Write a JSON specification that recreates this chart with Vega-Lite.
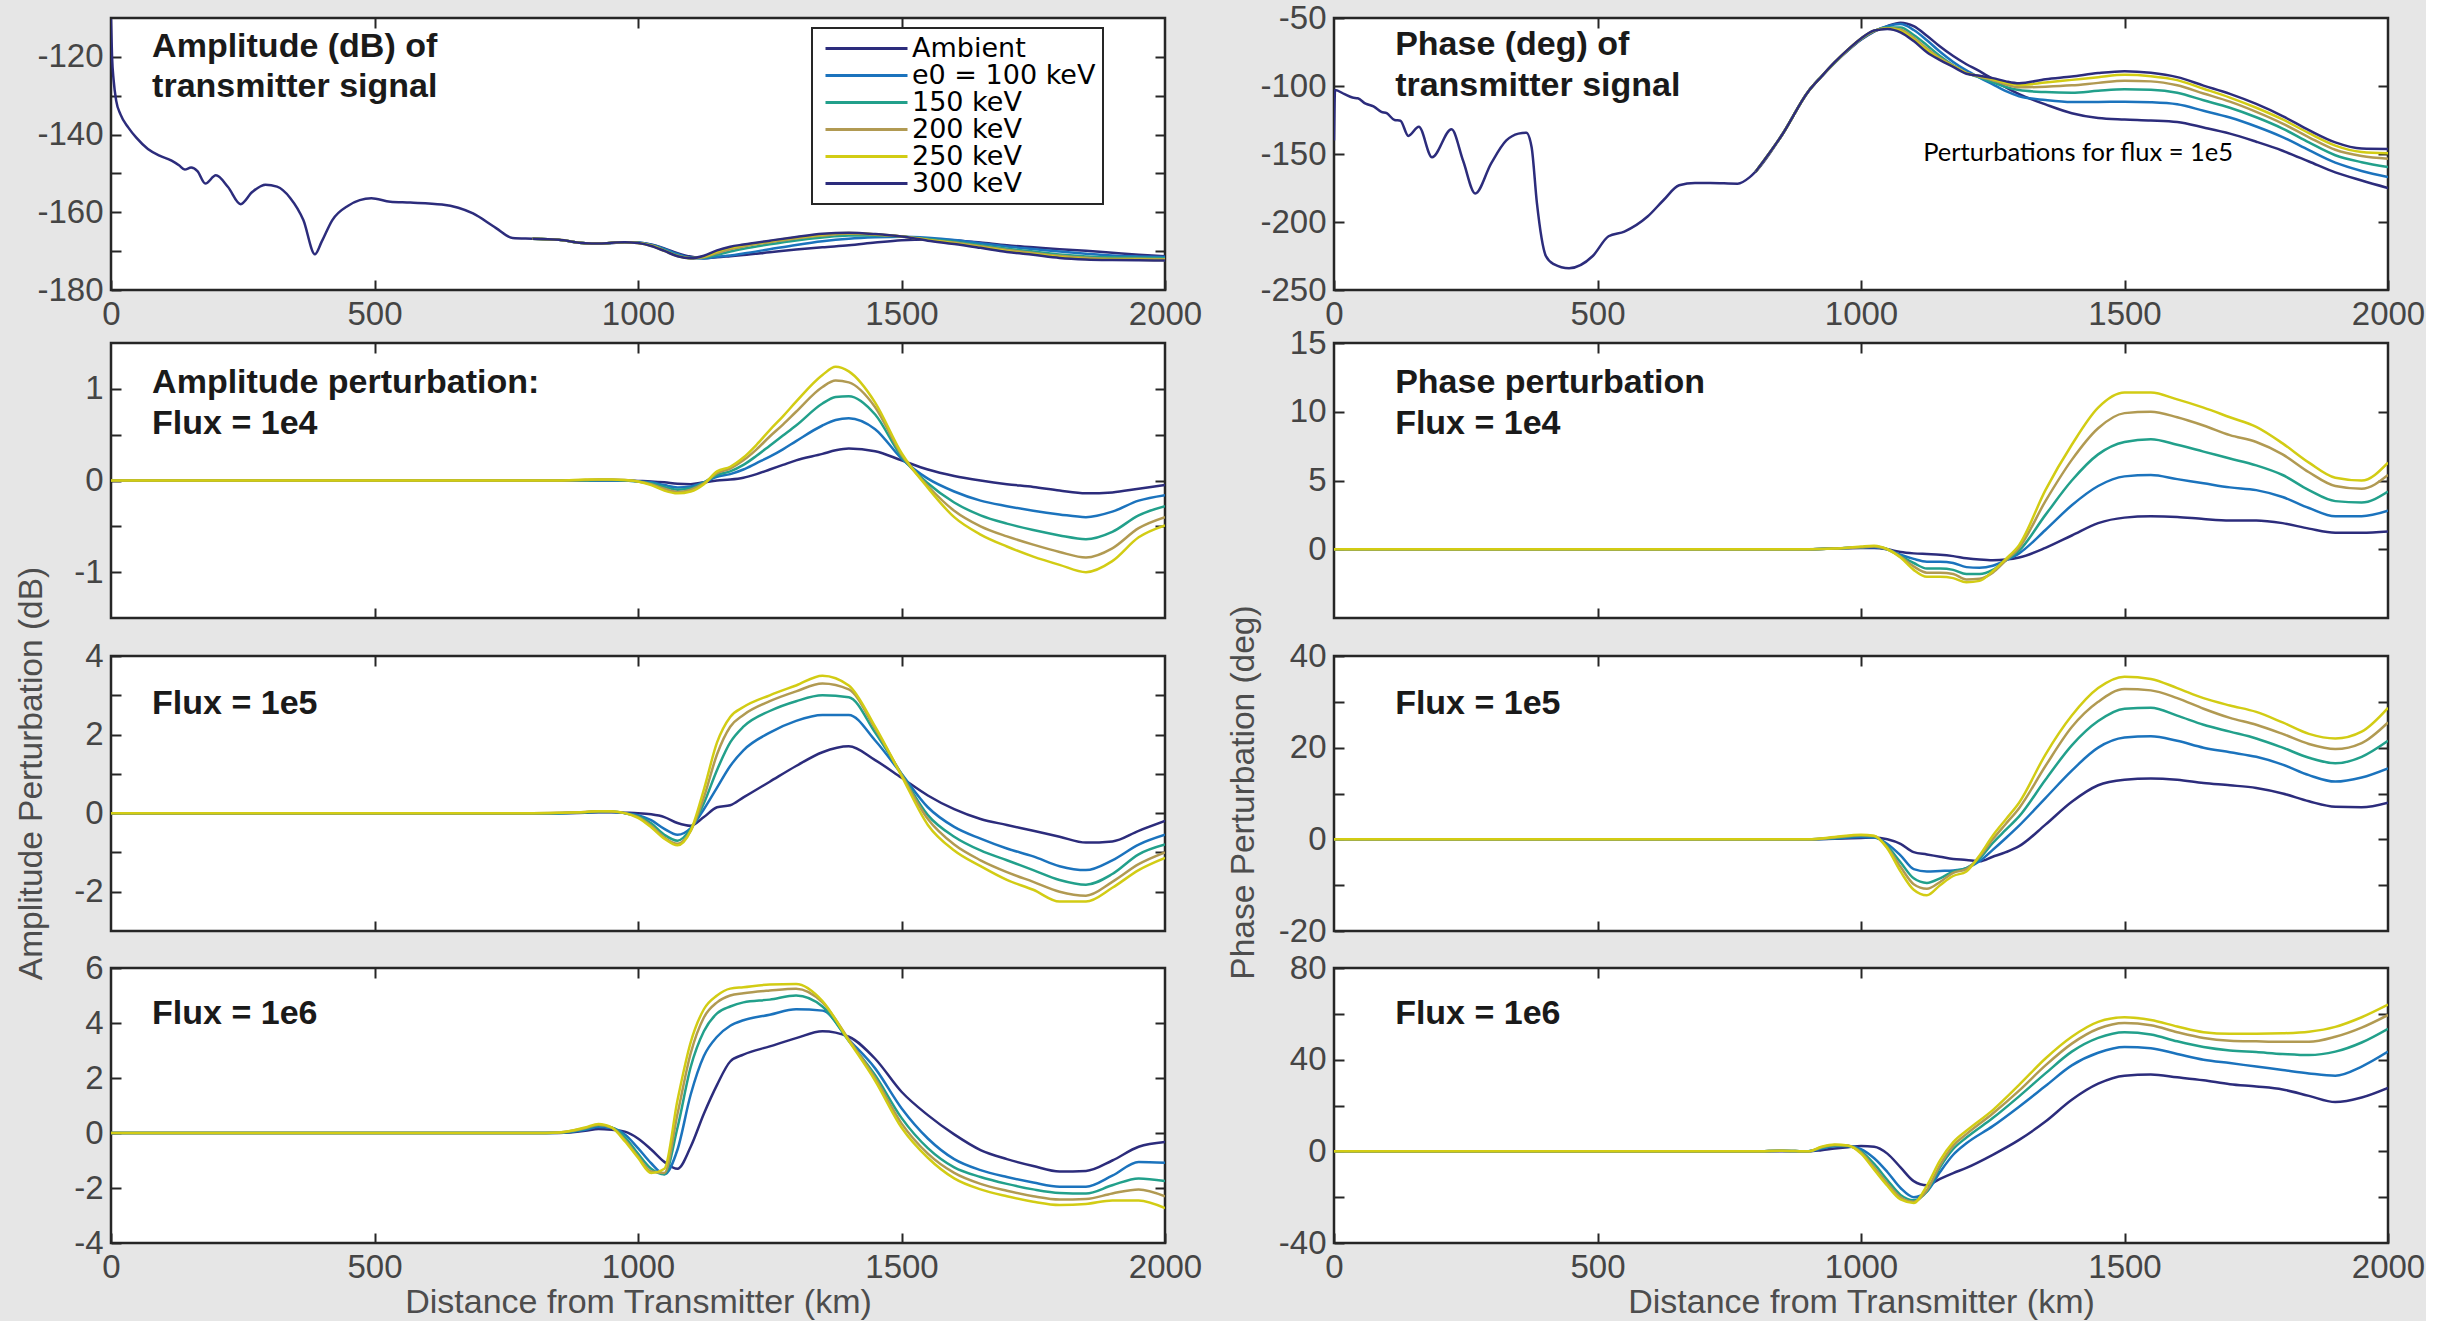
{
"$schema":"https://vega.github.io/schema/vega-lite/v6.json",
"background":"#e6e6e6",
"padding":{"left":12,"top":0,"right":0,"bottom":0},
"config":{
 "view":{"stroke":"#262626","strokeWidth":2.5,"fill":"#ffffff"},
 "axis":{"domain":false,"grid":false,"tickSize":-10,"tickWidth":2,"tickColor":"#262626","labelFont":"Liberation Sans","labelFontSize":33,"labelColor":"#454545","labelPadding":18,"labelFlush":false,"labelOverlap":false,"titleFont":"Liberation Sans","titleFontSize":33.5,"titleColor":"#4d4d4d","titleFontWeight":"normal"},
 "axisX":{"labelExpr":"'' + datum.value","titleFontSize":34},
 "legend":{"strokeWidth":2},
 "text":{"font":"Liberation Sans"}
},
"datasets":{
"ampTop":[
{"x":0,"Ambient":-110.3},{"x":2,"Ambient":-120},{"x":5,"Ambient":-126},{"x":10,"Ambient":-131.4},{"x":18,"Ambient":-134.8},{"x":33,"Ambient":-138.2},{"x":48,"Ambient":-140.8},{"x":70,"Ambient":-143.7},{"x":92,"Ambient":-145.4},{"x":115,"Ambient":-146.7},{"x":129,"Ambient":-147.9},{"x":140,"Ambient":-149},{"x":152,"Ambient":-148.5},{"x":164,"Ambient":-149.4},{"x":179,"Ambient":-152.6},{"x":199,"Ambient":-150.5},{"x":222,"Ambient":-153.5},{"x":246,"Ambient":-157.9},{"x":268,"Ambient":-154.8},{"x":293,"Ambient":-152.9},{"x":315,"Ambient":-153.4},{"x":340,"Ambient":-156.3},{"x":365,"Ambient":-162},{"x":387,"Ambient":-170.8},{"x":400,"Ambient":-167.5},{"x":420,"Ambient":-162},{"x":450,"Ambient":-158.3},{"x":494,"Ambient":-156.4},{"x":530,"Ambient":-157.3},{"x":568,"Ambient":-157.5},{"x":628,"Ambient":-158},{"x":687,"Ambient":-160.3},{"x":730,"Ambient":-164},{"x":762,"Ambient":-166.6},
{"x":800,"Ambient":-166.8,"k100":-166.8,"k150":-166.8,"k200":-166.8,"k250":-166.8,"k300":-166.8},
{"x":850,"Ambient":-167.1,"k100":-167.1,"k150":-167.1,"k200":-167.1,"k250":-167.09,"k300":-167.09},
{"x":900,"Ambient":-168.0,"k100":-167.99,"k150":-167.98,"k200":-167.98,"k250":-167.97,"k300":-167.97},
{"x":925,"Ambient":-168.1,"k100":-168.08,"k150":-168.07,"k200":-168.06,"k250":-168.05,"k300":-168.05},
{"x":950,"Ambient":-167.9,"k100":-167.88,"k150":-167.87,"k200":-167.86,"k250":-167.86,"k300":-167.85},
{"x":975,"Ambient":-167.7,"k100":-167.69,"k150":-167.7,"k200":-167.7,"k250":-167.7,"k300":-167.7},
{"x":1000,"Ambient":-167.8,"k100":-167.8,"k150":-167.85,"k200":-167.88,"k250":-167.9,"k300":-167.92},
{"x":1025,"Ambient":-168.3,"k100":-168.33,"k150":-168.48,"k200":-168.56,"k250":-168.62,"k300":-168.66},
{"x":1050,"Ambient":-169.3,"k100":-169.4,"k150":-169.7,"k200":-169.85,"k250":-169.92,"k300":-169.95},
{"x":1075,"Ambient":-170.5,"k100":-170.75,"k150":-171.05,"k200":-171.2,"k250":-171.28,"k300":-171.32},
{"x":1100,"Ambient":-171.4,"k100":-171.72,"k150":-171.78,"k200":-171.8,"k250":-171.85,"k300":-171.85},
{"x":1125,"Ambient":-171.8,"k100":-171.9,"k150":-171.7,"k200":-171.55,"k250":-171.4,"k300":-171.2},
{"x":1150,"Ambient":-171.6,"k100":-171.45,"k150":-170.95,"k200":-170.5,"k250":-170.1,"k300":-169.8},
{"x":1175,"Ambient":-171.3,"k100":-171.1,"k150":-170.1,"k200":-169.5,"k250":-169.1,"k300":-168.85},
{"x":1200,"Ambient":-171.0,"k100":-170.6,"k150":-169.4,"k200":-168.8,"k250":-168.5,"k300":-168.3},
{"x":1250,"Ambient":-170.3,"k100":-169.5,"k150":-168.25,"k200":-167.7,"k250":-167.45,"k300":-167.3},
{"x":1300,"Ambient":-169.6,"k100":-168.4,"k150":-167.25,"k200":-166.75,"k250":-166.5,"k300":-166.35},
{"x":1350,"Ambient":-169.0,"k100":-167.45,"k150":-166.5,"k200":-166.0,"k250":-165.7,"k300":-165.5},
{"x":1400,"Ambient":-168.5,"k100":-166.8,"k150":-166.0,"k200":-165.55,"k250":-165.35,"k300":-165.25},
{"x":1450,"Ambient":-167.8,"k100":-166.45,"k150":-165.95,"k200":-165.75,"k250":-165.65,"k300":-165.6},
{"x":1500,"Ambient":-167.2,"k100":-166.3,"k150":-166.2,"k200":-166.2,"k250":-166.22,"k300":-166.25},
{"x":1550,"Ambient":-167.0,"k100":-166.55,"k150":-166.85,"k200":-167.05,"k250":-167.15,"k300":-167.3},
{"x":1600,"Ambient":-167.2,"k100":-167.1,"k150":-167.55,"k200":-167.8,"k250":-168.0,"k300":-168.15},
{"x":1650,"Ambient":-167.8,"k100":-167.95,"k150":-168.45,"k200":-168.75,"k250":-169.0,"k300":-169.15},
{"x":1700,"Ambient":-168.5,"k100":-168.8,"k150":-169.4,"k200":-169.7,"k250":-170.0,"k300":-170.2},
{"x":1750,"Ambient":-169.0,"k100":-169.45,"k150":-170.1,"k200":-170.45,"k250":-170.75,"k300":-170.95},
{"x":1800,"Ambient":-169.5,"k100":-170.1,"k150":-170.85,"k200":-171.2,"k250":-171.5,"k300":-171.75},
{"x":1850,"Ambient":-169.9,"k100":-170.65,"k150":-171.35,"k200":-171.72,"k250":-172.0,"k300":-172.15},
{"x":1900,"Ambient":-170.4,"k100":-171.12,"k150":-171.6,"k200":-171.95,"k250":-172.15,"k300":-172.3},
{"x":1950,"Ambient":-170.9,"k100":-171.35,"k150":-171.7,"k200":-171.95,"k250":-172.2,"k300":-172.35},
{"x":2000,"Ambient":-171.3,"k100":-171.5,"k150":-171.85,"k200":-172.1,"k250":-172.3,"k300":-172.44}
],
"phaseTop":[
{"x":0,"Ambient":-140},{"x":2,"Ambient":-103},{"x":20,"Ambient":-106},{"x":35,"Ambient":-108.5},{"x":45,"Ambient":-109},{"x":60,"Ambient":-113},{"x":75,"Ambient":-115},{"x":90,"Ambient":-119},{"x":100,"Ambient":-120},{"x":115,"Ambient":-125},{"x":126,"Ambient":-125.5},{"x":141,"Ambient":-136.7},{"x":161,"Ambient":-130},{"x":186,"Ambient":-152.4},{"x":223,"Ambient":-131.8},{"x":245,"Ambient":-155},{"x":268,"Ambient":-179},{"x":298,"Ambient":-157},{"x":327,"Ambient":-140},{"x":350,"Ambient":-135},{"x":365,"Ambient":-134.3},{"x":375,"Ambient":-145},{"x":385,"Ambient":-186},{"x":402,"Ambient":-225},{"x":417,"Ambient":-231},{"x":446,"Ambient":-234},{"x":491,"Ambient":-225},{"x":521,"Ambient":-210.5},{"x":551,"Ambient":-207},{"x":595,"Ambient":-196},{"x":625,"Ambient":-184},{"x":655,"Ambient":-173},{"x":685,"Ambient":-171.3},{"x":714,"Ambient":-171.3},{"x":766,"Ambient":-171.8},{"x":789,"Ambient":-167},
{"x":800,"Ambient":-163,"k100":-163,"k150":-163,"k200":-163,"k250":-163,"k300":-163},
{"x":850,"Ambient":-136,"k100":-136,"k150":-136,"k200":-136,"k250":-136,"k300":-136},
{"x":900,"Ambient":-104,"k100":-104,"k150":-104,"k200":-104,"k250":-104,"k300":-104},
{"x":925,"Ambient":-93,"k100":-93,"k150":-93,"k200":-93,"k250":-93,"k300":-93},
{"x":950,"Ambient":-83,"k100":-82.9,"k150":-82.8,"k200":-82.7,"k250":-82.6,"k300":-82.5},
{"x":975,"Ambient":-74,"k100":-73.8,"k150":-73.65,"k200":-73.45,"k250":-73.35,"k300":-73.25},
{"x":1000,"Ambient":-66,"k100":-65.7,"k150":-65.5,"k200":-65.2,"k250":-65.1,"k300":-65},
{"x":1025,"Ambient":-60,"k100":-59.6,"k150":-59.6,"k200":-59.4,"k250":-59.3,"k300":-59.2},
{"x":1050,"Ambient":-56,"k100":-56,"k150":-57,"k200":-57.5,"k250":-57.8,"k300":-58},
{"x":1075,"Ambient":-53.5,"k100":-54.5,"k150":-57,"k200":-58.5,"k250":-59.5,"k300":-60.5},
{"x":1100,"Ambient":-56,"k100":-58.8,"k150":-62.5,"k200":-64.5,"k250":-65.8,"k300":-67},
{"x":1125,"Ambient":-63,"k100":-66.3,"k150":-70,"k200":-72.5,"k250":-73.8,"k300":-75.2},
{"x":1150,"Ambient":-71,"k100":-74.8,"k150":-77.9,"k200":-79.5,"k250":-80.3,"k300":-81},
{"x":1175,"Ambient":-78,"k100":-82.3,"k150":-84.8,"k200":-85,"k250":-85.3,"k300":-86},
{"x":1200,"Ambient":-84,"k100":-88.5,"k150":-90.3,"k200":-90.3,"k250":-90.5,"k300":-91},
{"x":1225,"Ambient":-89,"k100":-93.8,"k150":-93.8,"k200":-93.2,"k250":-92.8,"k300":-92.5},
{"x":1250,"Ambient":-95,"k100":-98.8,"k150":-97.3,"k200":-95.8,"k250":-95,"k300":-94.2},
{"x":1275,"Ambient":-101,"k100":-103.8,"k150":-100.7,"k200":-98.9,"k250":-97.6,"k300":-96.6},
{"x":1300,"Ambient":-106,"k100":-107.5,"k150":-103,"k200":-101,"k250":-99.2,"k300":-98},
{"x":1350,"Ambient":-113.5,"k100":-110.3,"k150":-104.5,"k200":-100.5,"k250":-97.5,"k300":-95},
{"x":1400,"Ambient":-120,"k100":-111.8,"k150":-105,"k200":-99.5,"k250":-95.5,"k300":-93},
{"x":1450,"Ambient":-123.5,"k100":-111.7,"k150":-103.5,"k200":-97.7,"k250":-93.5,"k300":-90.5},
{"x":1500,"Ambient":-124.6,"k100":-111.6,"k150":-102.4,"k200":-96.1,"k250":-91.8,"k300":-89.1},
{"x":1550,"Ambient":-125.3,"k100":-112,"k150":-102.8,"k200":-96.6,"k250":-92.8,"k300":-90.3},
{"x":1600,"Ambient":-126.5,"k100":-113.5,"k150":-105,"k200":-99.5,"k250":-95.7,"k300":-93.5},
{"x":1650,"Ambient":-130.5,"k100":-118.2,"k150":-110.5,"k200":-105.5,"k250":-102,"k300":-99.7},
{"x":1700,"Ambient":-135,"k100":-123.2,"k150":-116,"k200":-111.5,"k250":-108.5,"k300":-105.8},
{"x":1750,"Ambient":-141,"k100":-129.8,"k150":-123,"k200":-119,"k250":-116,"k300":-113.2},
{"x":1800,"Ambient":-147.6,"k100":-137.6,"k150":-131.3,"k200":-127.6,"k250":-124.6,"k300":-122.1},
{"x":1850,"Ambient":-155.5,"k100":-147.2,"k150":-141.5,"k200":-137.7,"k250":-134.7,"k300":-132.5},
{"x":1900,"Ambient":-163.5,"k100":-156.4,"k150":-150.9,"k200":-146.9,"k250":-143.8,"k300":-141.5},
{"x":1950,"Ambient":-169.5,"k100":-162.5,"k150":-156,"k200":-151.5,"k250":-148.5,"k300":-146},
{"x":2000,"Ambient":-175,"k100":-167,"k150":-159.5,"k200":-153.5,"k250":-149.5,"k300":-146.3}
],
"a4":[
{"x":0,"k100":0,"k150":0,"k200":0,"k250":0,"k300":0},
{"x":800,"k100":0,"k150":0,"k200":0,"k250":0,"k300":0},
{"x":850,"k100":0,"k150":0,"k200":0,"k250":0,"k300":0},
{"x":900,"k100":0,"k150":0,"k200":0,"k250":0.005,"k300":0.01},
{"x":925,"k100":0,"k150":0,"k200":0.005,"k250":0.01,"k300":0.012},
{"x":950,"k100":0,"k150":0,"k200":0.005,"k250":0.01,"k300":0.012},
{"x":975,"k100":0,"k150":0,"k200":0,"k250":0.005,"k300":0.005},
{"x":1000,"k100":-0.005,"k150":-0.01,"k200":-0.01,"k250":-0.01,"k300":-0.01},
{"x":1025,"k100":-0.01,"k150":-0.02,"k200":-0.03,"k250":-0.04,"k300":-0.05},
{"x":1050,"k100":-0.02,"k150":-0.05,"k200":-0.07,"k250":-0.09,"k300":-0.11},
{"x":1075,"k100":-0.035,"k150":-0.075,"k200":-0.1,"k250":-0.125,"k300":-0.14},
{"x":1100,"k100":-0.04,"k150":-0.065,"k200":-0.085,"k250":-0.1,"k300":-0.12},
{"x":1125,"k100":-0.02,"k150":-0.02,"k200":-0.02,"k250":-0.03,"k300":-0.04},
{"x":1150,"k100":0,"k150":0.04,"k200":0.06,"k250":0.08,"k300":0.1},
{"x":1175,"k100":0.01,"k150":0.07,"k200":0.1,"k250":0.13,"k300":0.15},
{"x":1200,"k100":0.03,"k150":0.12,"k200":0.17,"k250":0.22,"k300":0.25},
{"x":1225,"k100":0.07,"k150":0.19,"k200":0.27,"k250":0.34,"k300":0.39},
{"x":1250,"k100":0.12,"k150":0.26,"k200":0.38,"k250":0.48,"k300":0.55},
{"x":1275,"k100":0.17,"k150":0.34,"k200":0.49,"k250":0.61,"k300":0.7},
{"x":1300,"k100":0.22,"k150":0.43,"k200":0.6,"k250":0.75,"k300":0.86},
{"x":1350,"k100":0.29,"k150":0.6,"k200":0.84,"k250":1.02,"k300":1.15},
{"x":1375,"k100":0.33,"k150":0.66,"k200":0.91,"k250":1.09,"k300":1.24},
{"x":1400,"k100":0.35,"k150":0.68,"k200":0.92,"k250":1.07,"k300":1.19},
{"x":1450,"k100":0.32,"k150":0.56,"k200":0.72,"k250":0.8,"k300":0.85},
{"x":1500,"k100":0.22,"k150":0.24,"k200":0.26,"k250":0.28,"k300":0.3},
{"x":1550,"k100":0.12,"k150":0.02,"k200":-0.03,"k250":-0.06,"k300":-0.08},
{"x":1600,"k100":0.05,"k150":-0.12,"k200":-0.24,"k250":-0.33,"k300":-0.4},
{"x":1650,"k100":0,"k150":-0.22,"k200":-0.38,"k250":-0.5,"k300":-0.59},
{"x":1700,"k100":-0.04,"k150":-0.28,"k200":-0.47,"k250":-0.61,"k300":-0.72},
{"x":1750,"k100":-0.07,"k150":-0.33,"k200":-0.54,"k250":-0.7,"k300":-0.83},
{"x":1800,"k100":-0.11,"k150":-0.37,"k200":-0.6,"k250":-0.78,"k300":-0.92},
{"x":1850,"k100":-0.14,"k150":-0.4,"k200":-0.64,"k250":-0.84,"k300":-1.0},
{"x":1900,"k100":-0.13,"k150":-0.34,"k200":-0.56,"k250":-0.74,"k300":-0.88},
{"x":1950,"k100":-0.09,"k150":-0.22,"k200":-0.38,"k250":-0.52,"k300":-0.62},
{"x":2000,"k100":-0.05,"k150":-0.16,"k200":-0.28,"k250":-0.4,"k300":-0.49}
],
"p4":[
{"x":0,"k100":0,"k150":0,"k200":0,"k250":0,"k300":0},
{"x":800,"k100":0,"k150":0,"k200":0,"k250":0,"k300":0},
{"x":900,"k100":0,"k150":0,"k200":0,"k250":0,"k300":0},
{"x":950,"k100":0.05,"k150":0.05,"k200":0.05,"k250":0.05,"k300":0.05},
{"x":1000,"k100":0.1,"k150":0.15,"k200":0.15,"k250":0.15,"k300":0.2},
{"x":1025,"k100":0.1,"k150":0.15,"k200":0.2,"k250":0.2,"k300":0.25},
{"x":1050,"k100":0,"k150":0,"k200":0,"k250":0,"k300":0},
{"x":1075,"k100":-0.2,"k150":-0.4,"k200":-0.5,"k250":-0.55,"k300":-0.6},
{"x":1100,"k100":-0.3,"k150":-0.7,"k200":-1.0,"k250":-1.25,"k300":-1.5},
{"x":1125,"k100":-0.35,"k150":-0.9,"k200":-1.4,"k250":-1.7,"k300":-2.0},
{"x":1150,"k100":-0.4,"k150":-0.9,"k200":-1.4,"k250":-1.7,"k300":-2.0},
{"x":1175,"k100":-0.5,"k150":-1.0,"k200":-1.5,"k250":-1.8,"k300":-2.1},
{"x":1200,"k100":-0.65,"k150":-1.3,"k200":-1.8,"k250":-2.2,"k300":-2.4},
{"x":1225,"k100":-0.75,"k150":-1.35,"k200":-1.8,"k250":-2.15,"k300":-2.3},
{"x":1250,"k100":-0.8,"k150":-1.2,"k200":-1.5,"k250":-1.7,"k300":-1.6},
{"x":1275,"k100":-0.75,"k150":-0.8,"k200":-0.8,"k250":-0.8,"k300":-0.7},
{"x":1300,"k100":-0.6,"k150":-0.3,"k200":-0.1,"k250":0.1,"k300":0.3},
{"x":1350,"k100":0.1,"k150":1.4,"k200":2.5,"k250":3.5,"k300":4.3},
{"x":1400,"k100":1.0,"k150":3.2,"k200":5.0,"k250":6.5,"k300":7.6},
{"x":1450,"k100":1.9,"k150":4.6,"k200":6.9,"k250":8.8,"k300":10.3},
{"x":1500,"k100":2.3,"k150":5.3,"k200":7.8,"k250":9.9,"k300":11.4},
{"x":1550,"k100":2.4,"k150":5.4,"k200":8.0,"k250":10.0,"k300":11.4},
{"x":1600,"k100":2.35,"k150":5.1,"k200":7.6,"k250":9.6,"k300":10.9},
{"x":1650,"k100":2.2,"k150":4.8,"k200":7.1,"k250":9.0,"k300":10.3},
{"x":1700,"k100":2.1,"k150":4.5,"k200":6.6,"k250":8.3,"k300":9.6},
{"x":1750,"k100":2.1,"k150":4.3,"k200":6.1,"k250":7.8,"k300":8.9},
{"x":1800,"k100":1.9,"k150":3.8,"k200":5.4,"k250":6.9,"k300":7.7},
{"x":1850,"k100":1.5,"k150":3.0,"k200":4.3,"k250":5.6,"k300":6.3},
{"x":1900,"k100":1.2,"k150":2.4,"k200":3.5,"k250":4.6,"k300":5.2},
{"x":1950,"k100":1.2,"k150":2.4,"k200":3.4,"k250":4.4,"k300":5.0},
{"x":2000,"k100":1.3,"k150":2.8,"k200":4.2,"k250":5.4,"k300":6.3}
],
"a5":[
{"x":0,"k100":0,"k150":0,"k200":0,"k250":0,"k300":0},
{"x":800,"k100":0,"k150":0,"k200":0,"k250":0,"k300":0},
{"x":850,"k100":0,"k150":0,"k200":0,"k250":0.01,"k300":0.01},
{"x":900,"k100":0.01,"k150":0.02,"k200":0.02,"k250":0.03,"k300":0.03},
{"x":925,"k100":0.02,"k150":0.03,"k200":0.04,"k250":0.05,"k300":0.05},
{"x":950,"k100":0.02,"k150":0.03,"k200":0.04,"k250":0.04,"k300":0.05},
{"x":975,"k100":0.01,"k150":0,"k200":0,"k250":0,"k300":0},
{"x":1000,"k100":0,"k150":-0.05,"k200":-0.08,"k250":-0.1,"k300":-0.12},
{"x":1025,"k100":-0.03,"k150":-0.18,"k200":-0.26,"k250":-0.32,"k300":-0.36},
{"x":1050,"k100":-0.1,"k150":-0.4,"k200":-0.55,"k250":-0.62,"k300":-0.65},
{"x":1075,"k100":-0.25,"k150":-0.55,"k200":-0.7,"k250":-0.78,"k300":-0.82},
{"x":1100,"k100":-0.32,"k150":-0.38,"k200":-0.4,"k250":-0.45,"k300":-0.45},
{"x":1125,"k100":-0.1,"k150":0.1,"k200":0.25,"k250":0.4,"k300":0.6},
{"x":1150,"k100":0.15,"k150":0.65,"k200":1.1,"k250":1.5,"k300":1.8},
{"x":1175,"k100":0.2,"k150":1.2,"k200":1.8,"k250":2.2,"k300":2.45},
{"x":1200,"k100":0.4,"k150":1.6,"k200":2.2,"k250":2.5,"k300":2.7},
{"x":1250,"k100":0.8,"k150":2.05,"k200":2.6,"k250":2.85,"k300":3.0},
{"x":1300,"k100":1.2,"k150":2.35,"k200":2.85,"k250":3.1,"k300":3.25},
{"x":1350,"k100":1.55,"k150":2.5,"k200":3.0,"k250":3.3,"k300":3.5},
{"x":1400,"k100":1.7,"k150":2.5,"k200":2.95,"k250":3.15,"k300":3.25},
{"x":1450,"k100":1.35,"k150":1.85,"k200":2.05,"k250":2.15,"k300":2.2},
{"x":1500,"k100":0.9,"k150":1.0,"k200":1.0,"k250":0.98,"k300":0.95},
{"x":1550,"k100":0.45,"k150":0.15,"k200":-0.05,"k250":-0.15,"k300":-0.3},
{"x":1600,"k100":0.1,"k150":-0.35,"k200":-0.6,"k250":-0.8,"k300":-0.95},
{"x":1650,"k100":-0.15,"k150":-0.65,"k200":-0.95,"k250":-1.2,"k300":-1.35},
{"x":1700,"k100":-0.3,"k150":-0.9,"k200":-1.2,"k250":-1.5,"k300":-1.7},
{"x":1750,"k100":-0.45,"k150":-1.1,"k200":-1.45,"k250":-1.75,"k300":-1.95},
{"x":1800,"k100":-0.6,"k150":-1.35,"k200":-1.7,"k250":-2.0,"k300":-2.25},
{"x":1850,"k100":-0.75,"k150":-1.45,"k200":-1.82,"k250":-2.1,"k300":-2.25},
{"x":1900,"k100":-0.72,"k150":-1.2,"k200":-1.55,"k250":-1.75,"k300":-1.9},
{"x":1950,"k100":-0.45,"k150":-0.8,"k200":-1.05,"k250":-1.3,"k300":-1.45},
{"x":2000,"k100":-0.2,"k150":-0.55,"k200":-0.8,"k250":-1.0,"k300":-1.14}
],
"p5":[
{"x":0,"k100":0,"k150":0,"k200":0,"k250":0,"k300":0},
{"x":800,"k100":0,"k150":0,"k200":0,"k250":0,"k300":0},
{"x":900,"k100":0,"k150":0,"k200":0,"k250":0,"k300":0},
{"x":950,"k100":0.1,"k150":0.2,"k200":0.3,"k250":0.4,"k300":0.5},
{"x":1000,"k100":0.3,"k150":0.5,"k200":0.8,"k250":0.9,"k300":1.0},
{"x":1025,"k100":0.4,"k150":0.4,"k200":0.6,"k250":0.7,"k300":0.8},
{"x":1050,"k100":0,"k150":-1,"k200":-1.5,"k250":-1.8,"k300":-2},
{"x":1075,"k100":-1,"k150":-3.5,"k200":-5,"k250":-6,"k300":-7},
{"x":1100,"k100":-2.8,"k150":-6.5,"k200":-8.5,"k250":-9.8,"k300":-11},
{"x":1125,"k100":-3.3,"k150":-7,"k200":-9.5,"k250":-10.8,"k300":-12.2},
{"x":1150,"k100":-3.8,"k150":-6.9,"k200":-8.5,"k250":-9.3,"k300":-10},
{"x":1175,"k100":-4.3,"k150":-6.8,"k200":-7,"k250":-7.3,"k300":-8},
{"x":1200,"k100":-4.5,"k150":-6.3,"k200":-6.3,"k250":-6.5,"k300":-7.0},
{"x":1225,"k100":-4.8,"k150":-4.8,"k200":-4.2,"k250":-3.8,"k300":-3.5},
{"x":1250,"k100":-3.8,"k150":-2.3,"k200":-0.8,"k250":0,"k300":0.8},
{"x":1275,"k100":-2.8,"k150":0.3,"k200":2.1,"k250":3.4,"k300":4.4},
{"x":1300,"k100":-1.5,"k150":3,"k200":5,"k250":6.8,"k300":8},
{"x":1350,"k100":3.2,"k150":9,"k200":13,"k250":16,"k300":18.5},
{"x":1400,"k100":8.2,"k150":15,"k200":20.5,"k250":24.5,"k300":27},
{"x":1450,"k100":11.8,"k150":20,"k200":25.8,"k250":30,"k300":33},
{"x":1500,"k100":13,"k150":22.2,"k200":28.5,"k250":32.8,"k300":35.5},
{"x":1550,"k100":13.3,"k150":22.5,"k200":28.7,"k250":32.5,"k300":35},
{"x":1600,"k100":13,"k150":21.5,"k200":27,"k250":30.8,"k300":33},
{"x":1650,"k100":12.3,"k150":20,"k200":25,"k250":28.5,"k300":30.8},
{"x":1700,"k100":11.8,"k150":19,"k200":23.5,"k250":26.5,"k300":29.2},
{"x":1750,"k100":11.2,"k150":18,"k200":22,"k250":25,"k300":27.8},
{"x":1800,"k100":10,"k150":16.3,"k200":20,"k250":23,"k300":25.5},
{"x":1850,"k100":8.3,"k150":14,"k200":17.8,"k250":20.8,"k300":23},
{"x":1900,"k100":7.1,"k150":12.6,"k200":16.6,"k250":19.7,"k300":22},
{"x":1950,"k100":7,"k150":13.5,"k200":18,"k250":21,"k300":23.5},
{"x":2000,"k100":8,"k150":15.5,"k200":21.5,"k250":25.5,"k300":28.7}
],
"a6":[
{"x":0,"k100":0,"k150":0,"k200":0,"k250":0,"k300":0},
{"x":800,"k100":0,"k150":0,"k200":0,"k250":0,"k300":0},
{"x":850,"k100":0,"k150":0.01,"k200":0.01,"k250":0.02,"k300":0.02},
{"x":900,"k100":0.08,"k150":0.12,"k200":0.15,"k250":0.18,"k300":0.2},
{"x":925,"k100":0.15,"k150":0.22,"k200":0.28,"k250":0.3,"k300":0.33},
{"x":950,"k100":0.12,"k150":0.18,"k200":0.2,"k250":0.2,"k300":0.2},
{"x":975,"k100":0.05,"k150":-0.05,"k200":-0.15,"k250":-0.25,"k300":-0.3},
{"x":1000,"k100":-0.2,"k150":-0.55,"k200":-0.75,"k250":-0.85,"k300":-0.9},
{"x":1025,"k100":-0.6,"k150":-1.1,"k200":-1.3,"k250":-1.4,"k300":-1.45},
{"x":1050,"k100":-1.05,"k150":-1.5,"k200":-1.5,"k250":-1.45,"k300":-1.3},
{"x":1075,"k100":-1.3,"k150":-0.6,"k200":0.2,"k250":0.7,"k300":1.2},
{"x":1100,"k100":-0.5,"k150":1.4,"k200":2.4,"k250":2.9,"k300":3.3},
{"x":1125,"k100":0.7,"k150":2.8,"k200":3.7,"k250":4.2,"k300":4.5},
{"x":1150,"k100":1.75,"k150":3.5,"k200":4.35,"k250":4.75,"k300":5.0},
{"x":1175,"k100":2.6,"k150":3.9,"k200":4.6,"k250":5.0,"k300":5.25},
{"x":1200,"k100":2.85,"k150":4.1,"k200":4.75,"k250":5.08,"k300":5.3},
{"x":1250,"k100":3.15,"k150":4.3,"k200":4.85,"k250":5.18,"k300":5.4},
{"x":1300,"k100":3.45,"k150":4.5,"k200":5.0,"k250":5.25,"k300":5.42},
{"x":1350,"k100":3.7,"k150":4.45,"k200":4.6,"k250":4.75,"k300":4.8},
{"x":1400,"k100":3.5,"k150":3.4,"k200":3.35,"k250":3.4,"k300":3.35},
{"x":1450,"k100":2.7,"k150":2.35,"k200":2.1,"k250":2.0,"k300":1.9},
{"x":1500,"k100":1.5,"k150":0.9,"k200":0.55,"k250":0.35,"k300":0.2},
{"x":1550,"k100":0.65,"k150":-0.2,"k200":-0.55,"k250":-0.75,"k300":-0.9},
{"x":1600,"k100":-0.05,"k150":-0.95,"k200":-1.25,"k250":-1.45,"k300":-1.65},
{"x":1650,"k100":-0.62,"k150":-1.35,"k200":-1.6,"k250":-1.85,"k300":-2.05},
{"x":1700,"k100":-0.95,"k150":-1.6,"k200":-1.85,"k250":-2.1,"k300":-2.3},
{"x":1750,"k100":-1.2,"k150":-1.8,"k200":-2.05,"k250":-2.3,"k300":-2.5},
{"x":1800,"k100":-1.4,"k150":-1.95,"k200":-2.18,"k250":-2.42,"k300":-2.62},
{"x":1850,"k100":-1.38,"k150":-1.95,"k200":-2.2,"k250":-2.4,"k300":-2.58},
{"x":1900,"k100":-1.0,"k150":-1.55,"k200":-1.9,"k250":-2.2,"k300":-2.45},
{"x":1950,"k100":-0.5,"k150":-1.05,"k200":-1.65,"k250":-2.05,"k300":-2.45},
{"x":2000,"k100":-0.33,"k150":-1.08,"k200":-1.75,"k250":-2.3,"k300":-2.73}
],
"p6":[
{"x":0,"k100":0,"k150":0,"k200":0,"k250":0,"k300":0},
{"x":800,"k100":0,"k150":0,"k200":0,"k250":0,"k300":0},
{"x":850,"k100":0,"k150":0.3,"k200":0.3,"k250":0.3,"k300":0.3},
{"x":900,"k100":0,"k150":0,"k200":0,"k250":0,"k300":0},
{"x":925,"k100":0.5,"k150":1.2,"k200":1.5,"k250":1.8,"k300":2},
{"x":950,"k100":1.2,"k150":2.2,"k200":2.5,"k250":2.8,"k300":3},
{"x":975,"k100":1.8,"k150":2.3,"k200":2.3,"k250":2.5,"k300":2.5},
{"x":1000,"k100":2.3,"k150":1,"k200":0,"k250":-0.5,"k300":-1},
{"x":1025,"k100":2,"k150":-3,"k200":-5.5,"k250":-7,"k300":-8},
{"x":1050,"k100":-1,"k150":-9,"k200":-12.5,"k250":-14,"k300":-15},
{"x":1075,"k100":-7,"k150":-16,"k200":-19,"k250":-20,"k300":-21},
{"x":1100,"k100":-13,"k150":-20,"k200":-21.3,"k250":-22,"k300":-22.5},
{"x":1125,"k100":-14.8,"k150":-17.5,"k200":-17.5,"k250":-17,"k300":-15},
{"x":1150,"k100":-12,"k150":-9,"k200":-7,"k250":-6,"k300":-4},
{"x":1175,"k100":-9.5,"k150":-1.5,"k200":1,"k250":2.5,"k300":4},
{"x":1200,"k100":-7.2,"k150":3.5,"k200":6,"k250":7.5,"k300":9},
{"x":1250,"k100":-1.5,"k150":11,"k200":14.5,"k250":16.5,"k300":18},
{"x":1300,"k100":5,"k150":19.5,"k200":24,"k250":26.5,"k300":29},
{"x":1350,"k100":13,"k150":28.5,"k200":34,"k250":37.5,"k300":40.5},
{"x":1400,"k100":22.5,"k150":37.5,"k200":43.5,"k250":47,"k300":50},
{"x":1450,"k100":29.5,"k150":43,"k200":49.5,"k250":53.5,"k300":56.5},
{"x":1500,"k100":33,"k150":45.5,"k200":52,"k250":56,"k300":58.5},
{"x":1550,"k100":33.5,"k150":45,"k200":51,"k250":55,"k300":57.3},
{"x":1600,"k100":32.3,"k150":42.5,"k200":48,"k250":52,"k300":54.5},
{"x":1650,"k100":31,"k150":40,"k200":45.5,"k250":49.5,"k300":52},
{"x":1700,"k100":29.3,"k150":38.5,"k200":44,"k250":48.3,"k300":51.3},
{"x":1750,"k100":28.3,"k150":37,"k200":43.3,"k250":48,"k300":51.3},
{"x":1800,"k100":27,"k150":35.5,"k200":42.5,"k250":47.8,"k300":51.5},
{"x":1850,"k100":24.2,"k150":34,"k200":42,"k250":47.8,"k300":52.2},
{"x":1900,"k100":21.5,"k150":33,"k200":43.5,"k250":50,"k300":54.3},
{"x":1950,"k100":23.5,"k150":37,"k200":47.5,"k250":54,"k300":58.5},
{"x":2000,"k100":27.7,"k150":43.5,"k200":53.5,"k250":59.5,"k300":64}
]
},
"concat":[
{"width":1054,"height":272,
 "layer":[
  {"data":{"name":"ampTop"},"transform":[{"fold":["Ambient","k100","k150","k200","k250","k300"],"as":["series","value"]}],
   "mark":{"type":"line","interpolate":"monotone","strokeWidth":2.5,"clip":true},
   "encoding":{
    "x":{"field":"x","type":"quantitative","scale":{"domain":[0,2000],"nice":false,"zero":false},"axis":{"orient":"bottom","values":[0,500,1000,1500,2000],"title":null}},
    "y":{"field":"value","type":"quantitative","scale":{"domain":[-180,-110],"nice":false,"zero":false},"axis":{"orient":"left","values":[-180,-170,-160,-150,-140,-130,-120],"labelExpr":"datum.value % 20 == 0 ? '' + datum.value : ''","title":null}},
    "color":{"field":"series","type":"nominal","scale":{"domain":["Ambient","k100","k150","k200","k250","k300"],"range":["#2c2c7c","#1b73bd","#22a08b","#b19a52","#d2cc14","#2c2c7c"]},
     "legend":{"orient":"none","legendX":701,"legendY":10,"title":null,"direction":"vertical","symbolType":"M-4.1,0H4.1","symbolSize":400,"symbolStrokeWidth":3,"symbolOffset":34,"labelOffset":32,"labelLimit":0,"labelFont":"DejaVu Sans","labelFontSize":27,"labelColor":"#000000","padding":7,"rowPadding":-1,"strokeColor":"#262626","fillColor":"#ffffff",
      "labelExpr":"datum.label == 'k100' ? 'e0 = 100 keV' : datum.label == 'k150' ? '150 keV' : datum.label == 'k200' ? '200 keV' : datum.label == 'k250' ? '250 keV' : datum.label == 'k300' ? '300 keV' : datum.label"}}
   }},
  {"data":{"values":[{}]},"mark":{"type":"point","opacity":0},
   "encoding":{"x":{"datum":1000,"type":"quantitative","axis":{"orient":"top","values":[500,1000,1500],"labels":false,"title":null}},
    "y":{"datum":-150,"type":"quantitative","axis":{"orient":"right","values":[-170,-160,-150,-140,-130,-120],"labels":false,"title":null}}}},
  {"data":{"values":[{"x":78,"y":-120,"t":"Amplitude (dB) of\ntransmitter signal"}]},
   "mark":{"type":"text","align":"left","baseline":"alphabetic","lineBreak":"\n","lineHeight":40.6,"fontSize":34,"fontWeight":"bold","color":"#1a1a1a"},
   "encoding":{"x":{"field":"x","type":"quantitative","axis":null},"y":{"field":"y","type":"quantitative","axis":null},"text":{"field":"t","type":"nominal"}}}
 ],
 "resolve":{"axis":{"x":"independent","y":"independent"}}
},
{"width":1054,"height":272,
 "layer":[
  {"data":{"name":"phaseTop"},"transform":[{"fold":["Ambient","k100","k150","k200","k250","k300"],"as":["series","value"]}],
   "mark":{"type":"line","interpolate":"monotone","strokeWidth":2.5,"clip":true},
   "encoding":{
    "x":{"field":"x","type":"quantitative","scale":{"domain":[0,2000],"nice":false,"zero":false},"axis":{"orient":"bottom","values":[0,500,1000,1500,2000],"title":null}},
    "y":{"field":"value","type":"quantitative","scale":{"domain":[-250,-50],"nice":false,"zero":false},"axis":{"orient":"left","values":[-250,-200,-150,-100,-50],"labelExpr":"'' + datum.value","title":null}},
    "color":{"field":"series","type":"nominal","scale":{"domain":["Ambient","k100","k150","k200","k250","k300"],"range":["#2c2c7c","#1b73bd","#22a08b","#b19a52","#d2cc14","#2c2c7c"]},"legend":null}
   }},
  {"data":{"values":[{}]},"mark":{"type":"point","opacity":0},
   "encoding":{"x":{"datum":1000,"type":"quantitative","axis":{"orient":"top","values":[500,1000,1500],"labels":false,"title":null}},
    "y":{"datum":-150,"type":"quantitative","axis":{"orient":"right","values":[-200,-150,-100],"labels":false,"title":null}}}},
  {"data":{"values":[{"x":116,"y":-77.2,"t":"Phase (deg) of\ntransmitter signal"}]},
   "mark":{"type":"text","align":"left","baseline":"alphabetic","lineBreak":"\n","lineHeight":40.6,"fontSize":34,"fontWeight":"bold","color":"#1a1a1a"},
   "encoding":{"x":{"field":"x","type":"quantitative","axis":null},"y":{"field":"y","type":"quantitative","axis":null},"text":{"field":"t","type":"nominal"}}},
  {"data":{"values":[{"x":1118,"y":-155.1,"t":"Perturbations for flux  = 1e5"}]},
   "mark":{"type":"text","align":"left","baseline":"alphabetic","font":"Lato","fontSize":25.5,"color":"#000000"},
   "encoding":{"x":{"field":"x","type":"quantitative","axis":null},"y":{"field":"y","type":"quantitative","axis":null},"text":{"field":"t","type":"nominal"}}}
 ],
 "resolve":{"axis":{"x":"independent","y":"independent"}}
},
{"width":1054,"height":53,"view":{"stroke":"transparent","fill":"transparent"},"data":{"values":[{}]},"mark":{"type":"point","opacity":0}},
{"width":1054,"height":53,"view":{"stroke":"transparent","fill":"transparent"},"data":{"values":[{}]},"mark":{"type":"point","opacity":0}},
{"width":1054,"height":275,
 "layer":[
  {"data":{"name":"a4"},"transform":[{"fold":["k100","k150","k200","k250","k300"],"as":["series","value"]}],
   "mark":{"type":"line","interpolate":"monotone","strokeWidth":2.5,"clip":true},
   "encoding":{
    "x":{"field":"x","type":"quantitative","scale":{"domain":[0,2000],"nice":false,"zero":false},"axis":{"orient":"bottom","values":[500,1000,1500],"labels":false,"title":null}},
    "y":{"field":"value","type":"quantitative","scale":{"domain":[-1.5,1.5],"nice":false,"zero":false},"axis":{"orient":"left","values":[-1,-0.5,0,0.5,1],"labelExpr":"datum.value % 1 == 0 ? '' + datum.value : ''","title":null}},
    "color":{"field":"series","type":"nominal","scale":{"domain":["k100","k150","k200","k250","k300"],"range":["#2c2c7c","#1b73bd","#22a08b","#b19a52","#d2cc14"]},"legend":null}
   }},
  {"data":{"values":[{}]},"mark":{"type":"point","opacity":0},
   "encoding":{"x":{"datum":1000,"type":"quantitative","axis":{"orient":"top","values":[500,1000,1500],"labels":false,"title":null}},
    "y":{"datum":0,"type":"quantitative","axis":{"orient":"right","values":[-1,-0.5,0,0.5,1],"labels":false,"title":null}}}},
  {"data":{"values":[{"x":78,"y":0.955,"t":"Amplitude perturbation:\nFlux = 1e4"}]},
   "mark":{"type":"text","align":"left","baseline":"alphabetic","lineBreak":"\n","lineHeight":40.6,"fontSize":34,"fontWeight":"bold","color":"#1a1a1a"},
   "encoding":{"x":{"field":"x","type":"quantitative","axis":null},"y":{"field":"y","type":"quantitative","axis":null},"text":{"field":"t","type":"nominal"}}}
 ],
 "resolve":{"axis":{"x":"independent","y":"independent"}}
},
{"width":1054,"height":275,
 "layer":[
  {"data":{"name":"p4"},"transform":[{"fold":["k100","k150","k200","k250","k300"],"as":["series","value"]}],
   "mark":{"type":"line","interpolate":"monotone","strokeWidth":2.5,"clip":true},
   "encoding":{
    "x":{"field":"x","type":"quantitative","scale":{"domain":[0,2000],"nice":false,"zero":false},"axis":{"orient":"bottom","values":[500,1000,1500],"labels":false,"title":null}},
    "y":{"field":"value","type":"quantitative","scale":{"domain":[-5,15],"nice":false,"zero":false},"axis":{"orient":"left","values":[0,5,10,15],"labelExpr":"'' + datum.value","title":null}},
    "color":{"field":"series","type":"nominal","scale":{"domain":["k100","k150","k200","k250","k300"],"range":["#2c2c7c","#1b73bd","#22a08b","#b19a52","#d2cc14"]},"legend":null}
   }},
  {"data":{"values":[{}]},"mark":{"type":"point","opacity":0},
   "encoding":{"x":{"datum":1000,"type":"quantitative","axis":{"orient":"top","values":[500,1000,1500],"labels":false,"title":null}},
    "y":{"datum":0,"type":"quantitative","axis":{"orient":"right","values":[0,5,10],"labels":false,"title":null}}}},
  {"data":{"values":[{"x":116,"y":11.36,"t":"Phase perturbation\nFlux = 1e4"}]},
   "mark":{"type":"text","align":"left","baseline":"alphabetic","lineBreak":"\n","lineHeight":40.6,"fontSize":34,"fontWeight":"bold","color":"#1a1a1a"},
   "encoding":{"x":{"field":"x","type":"quantitative","axis":null},"y":{"field":"y","type":"quantitative","axis":null},"text":{"field":"t","type":"nominal"}}}
 ],
 "resolve":{"axis":{"x":"independent","y":"independent"}}
},
{"width":1054,"height":38,"view":{"stroke":"transparent","fill":"transparent"},"data":{"values":[{}]},"mark":{"type":"point","opacity":0}},
{"width":1054,"height":38,"view":{"stroke":"transparent","fill":"transparent"},"data":{"values":[{}]},"mark":{"type":"point","opacity":0}},
{"width":1054,"height":275,
 "layer":[
  {"data":{"name":"a5"},"transform":[{"fold":["k100","k150","k200","k250","k300"],"as":["series","value"]}],
   "mark":{"type":"line","interpolate":"monotone","strokeWidth":2.5,"clip":true},
   "encoding":{
    "x":{"field":"x","type":"quantitative","scale":{"domain":[0,2000],"nice":false,"zero":false},"axis":{"orient":"bottom","values":[500,1000,1500],"labels":false,"title":null}},
    "y":{"field":"value","type":"quantitative","scale":{"domain":[-3,4],"nice":false,"zero":false},"axis":{"orient":"left","values":[-2,-1,0,1,2,3,4],"labelExpr":"datum.value % 2 == 0 ? '' + datum.value : ''","title":"Amplitude Perturbation (dB)","titleX":-80,"titleY":117,"titleAngle":270,"titleBaseline":"middle","titleAlign":"center"}},
    "color":{"field":"series","type":"nominal","scale":{"domain":["k100","k150","k200","k250","k300"],"range":["#2c2c7c","#1b73bd","#22a08b","#b19a52","#d2cc14"]},"legend":null}
   }},
  {"data":{"values":[{}]},"mark":{"type":"point","opacity":0},
   "encoding":{"x":{"datum":1000,"type":"quantitative","axis":{"orient":"top","values":[500,1000,1500],"labels":false,"title":null}},
    "y":{"datum":0,"type":"quantitative","axis":{"orient":"right","values":[-2,-1,0,1,2,3],"labels":false,"title":null}}}},
  {"data":{"values":[{"x":78,"y":2.53,"t":"Flux = 1e5"}]},
   "mark":{"type":"text","align":"left","baseline":"alphabetic","fontSize":34,"fontWeight":"bold","color":"#1a1a1a"},
   "encoding":{"x":{"field":"x","type":"quantitative","axis":null},"y":{"field":"y","type":"quantitative","axis":null},"text":{"field":"t","type":"nominal"}}}
 ],
 "resolve":{"axis":{"x":"independent","y":"independent"}}
},
{"width":1054,"height":275,
 "layer":[
  {"data":{"name":"p5"},"transform":[{"fold":["k100","k150","k200","k250","k300"],"as":["series","value"]}],
   "mark":{"type":"line","interpolate":"monotone","strokeWidth":2.5,"clip":true},
   "encoding":{
    "x":{"field":"x","type":"quantitative","scale":{"domain":[0,2000],"nice":false,"zero":false},"axis":{"orient":"bottom","values":[500,1000,1500],"labels":false,"title":null}},
    "y":{"field":"value","type":"quantitative","scale":{"domain":[-20,40],"nice":false,"zero":false},"axis":{"orient":"left","values":[-20,-10,0,10,20,30,40],"labelExpr":"datum.value % 20 == 0 ? '' + datum.value : ''","title":"Phase  Perturbation (deg)","titleX":-91,"titleY":136,"titleAngle":270,"titleBaseline":"middle","titleAlign":"center"}},
    "color":{"field":"series","type":"nominal","scale":{"domain":["k100","k150","k200","k250","k300"],"range":["#2c2c7c","#1b73bd","#22a08b","#b19a52","#d2cc14"]},"legend":null}
   }},
  {"data":{"values":[{}]},"mark":{"type":"point","opacity":0},
   "encoding":{"x":{"datum":1000,"type":"quantitative","axis":{"orient":"top","values":[500,1000,1500],"labels":false,"title":null}},
    "y":{"datum":0,"type":"quantitative","axis":{"orient":"right","values":[-10,0,10,20,30],"labels":false,"title":null}}}},
  {"data":{"values":[{"x":116,"y":27.4,"t":"Flux = 1e5"}]},
   "mark":{"type":"text","align":"left","baseline":"alphabetic","fontSize":34,"fontWeight":"bold","color":"#1a1a1a"},
   "encoding":{"x":{"field":"x","type":"quantitative","axis":null},"y":{"field":"y","type":"quantitative","axis":null},"text":{"field":"t","type":"nominal"}}}
 ],
 "resolve":{"axis":{"x":"independent","y":"independent"}}
},
{"width":1054,"height":37,"view":{"stroke":"transparent","fill":"transparent"},"data":{"values":[{}]},"mark":{"type":"point","opacity":0}},
{"width":1054,"height":37,"view":{"stroke":"transparent","fill":"transparent"},"data":{"values":[{}]},"mark":{"type":"point","opacity":0}},
{"width":1054,"height":275,
 "layer":[
  {"data":{"name":"a6"},"transform":[{"fold":["k100","k150","k200","k250","k300"],"as":["series","value"]}],
   "mark":{"type":"line","interpolate":"monotone","strokeWidth":2.5,"clip":true},
   "encoding":{
    "x":{"field":"x","type":"quantitative","scale":{"domain":[0,2000],"nice":false,"zero":false},"axis":{"orient":"bottom","values":[0,500,1000,1500,2000],"title":"Distance from Transmitter (km)","titlePadding":1}},
    "y":{"field":"value","type":"quantitative","scale":{"domain":[-4,6],"nice":false,"zero":false},"axis":{"orient":"left","values":[-4,-2,0,2,4,6],"labelExpr":"'' + datum.value","title":null}},
    "color":{"field":"series","type":"nominal","scale":{"domain":["k100","k150","k200","k250","k300"],"range":["#2c2c7c","#1b73bd","#22a08b","#b19a52","#d2cc14"]},"legend":null}
   }},
  {"data":{"values":[{}]},"mark":{"type":"point","opacity":0},
   "encoding":{"x":{"datum":1000,"type":"quantitative","axis":{"orient":"top","values":[500,1000,1500],"labels":false,"title":null}},
    "y":{"datum":0,"type":"quantitative","axis":{"orient":"right","values":[-2,0,2,4],"labels":false,"title":null}}}},
  {"data":{"values":[{"x":78,"y":3.97,"t":"Flux = 1e6"}]},
   "mark":{"type":"text","align":"left","baseline":"alphabetic","fontSize":34,"fontWeight":"bold","color":"#1a1a1a"},
   "encoding":{"x":{"field":"x","type":"quantitative","axis":null},"y":{"field":"y","type":"quantitative","axis":null},"text":{"field":"t","type":"nominal"}}}
 ],
 "resolve":{"axis":{"x":"independent","y":"independent"}}
},
{"width":1054,"height":275,
 "layer":[
  {"data":{"name":"p6"},"transform":[{"fold":["k100","k150","k200","k250","k300"],"as":["series","value"]}],
   "mark":{"type":"line","interpolate":"monotone","strokeWidth":2.5,"clip":true},
   "encoding":{
    "x":{"field":"x","type":"quantitative","scale":{"domain":[0,2000],"nice":false,"zero":false},"axis":{"orient":"bottom","values":[0,500,1000,1500,2000],"title":"Distance from Transmitter (km)","titlePadding":1}},
    "y":{"field":"value","type":"quantitative","scale":{"domain":[-40,80],"nice":false,"zero":false},"axis":{"orient":"left","values":[-40,-20,0,20,40,60,80],"labelExpr":"datum.value % 40 == 0 ? '' + datum.value : ''","title":null}},
    "color":{"field":"series","type":"nominal","scale":{"domain":["k100","k150","k200","k250","k300"],"range":["#2c2c7c","#1b73bd","#22a08b","#b19a52","#d2cc14"]},"legend":null}
   }},
  {"data":{"values":[{}]},"mark":{"type":"point","opacity":0},
   "encoding":{"x":{"datum":1000,"type":"quantitative","axis":{"orient":"top","values":[500,1000,1500],"labels":false,"title":null}},
    "y":{"datum":0,"type":"quantitative","axis":{"orient":"right","values":[-20,0,20,40,60],"labels":false,"title":null}}}},
  {"data":{"values":[{"x":116,"y":55.7,"t":"Flux = 1e6"}]},
   "mark":{"type":"text","align":"left","baseline":"alphabetic","fontSize":34,"fontWeight":"bold","color":"#1a1a1a"},
   "encoding":{"x":{"field":"x","type":"quantitative","axis":null},"y":{"field":"y","type":"quantitative","axis":null},"text":{"field":"t","type":"nominal"}}}
 ],
 "resolve":{"axis":{"x":"independent","y":"independent"}}
}
],
"columns":2,
"spacing":{"row":0,"column":169},
"bounds":"flush",
"align":"each",
"resolve":{"scale":{"color":"independent"},"legend":{"color":"independent"}}
}
